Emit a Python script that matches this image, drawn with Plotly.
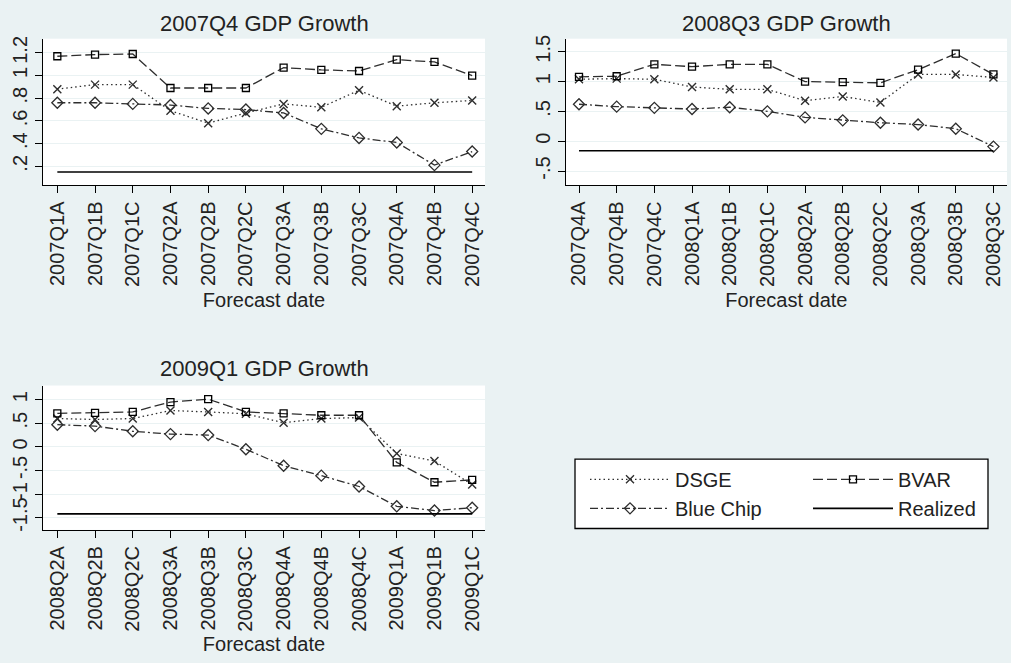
import plotly.graph_objects as go

# ---------------- data ----------------
titles = ["2007Q4 GDP Growth", "2008Q3 GDP Growth", "2009Q1 GDP Growth"]

dates1 = ["2007Q1A", "2007Q1B", "2007Q1C", "2007Q2A", "2007Q2B", "2007Q2C",
          "2007Q3A", "2007Q3B", "2007Q3C", "2007Q4A", "2007Q4B", "2007Q4C"]
dsge1 = [0.88, 0.92, 0.92, 0.69, 0.58, 0.67, 0.75, 0.72, 0.87, 0.73, 0.76, 0.78]
bvar1 = [1.17, 1.185, 1.19, 0.89, 0.89, 0.89, 1.07, 1.05, 1.04, 1.14, 1.12, 1.00]
bluechip1 = [0.76, 0.76, 0.75, 0.74, 0.71, 0.70, 0.67, 0.53, 0.45, 0.41, 0.21, 0.33]
realized1 = 0.15

dates2 = ["2007Q4A", "2007Q4B", "2007Q4C", "2008Q1A", "2008Q1B", "2008Q1C",
          "2008Q2A", "2008Q2B", "2008Q2C", "2008Q3A", "2008Q3B", "2008Q3C"]
dsge2 = [1.04, 1.05, 1.04, 0.91, 0.87, 0.87, 0.68, 0.75, 0.65, 1.12, 1.12, 1.07]
bvar2 = [1.08, 1.09, 1.29, 1.25, 1.29, 1.29, 1.00, 0.99, 0.98, 1.20, 1.47, 1.12]
bluechip2 = [0.62, 0.58, 0.56, 0.54, 0.57, 0.50, 0.40, 0.35, 0.31, 0.28, 0.21, -0.09]
realized2 = -0.16

dates3 = ["2008Q2A", "2008Q2B", "2008Q2C", "2008Q3A", "2008Q3B", "2008Q3C",
          "2008Q4A", "2008Q4B", "2008Q4C", "2009Q1A", "2009Q1B", "2009Q1C"]
dsge3 = [0.60, 0.58, 0.60, 0.77, 0.74, 0.70, 0.51, 0.60, 0.62, -0.14, -0.30, -0.80]
bvar3 = [0.71, 0.72, 0.74, 0.95, 1.01, 0.74, 0.71, 0.67, 0.67, -0.33, -0.75, -0.70]
bluechip3 = [0.47, 0.44, 0.33, 0.27, 0.25, -0.05, -0.40, -0.61, -0.84, -1.26, -1.35, -1.29]
realized3 = -1.42

ytickvals1 = [0.2, 0.4, 0.6, 0.8, 1.0, 1.2]
yticktext1 = [".2", ".4", ".6", ".8", "1", "1.2"]
ytickvals2 = [-0.5, 0, 0.5, 1.0, 1.5]
yticktext2 = ["-.5", "0", ".5", "1", "1.5"]
ytickvals3 = [-1.5, -1, -0.5, 0, 0.5, 1]
yticktext3 = ["-1.5", "-1", "-.5", "0", ".5", "1"]

# ---------------- style ----------------
W, H = 1011, 663
BG = "#EAF2F3"
GRID = "#EAF2F3"
FONT = "Liberation Sans, Arial, Helvetica, sans-serif"
LC = "#2e2e2e"

panels = [
    dict(dates=dates1, dsge=dsge1, bvar=bvar1, bc=bluechip1, real=realized1,
         tv=ytickvals1, tt=yticktext1, yr=[0.032, 1.325], xr=[-0.38, 11.34],
         px=(43, 485), py=(35, 183), title=titles[0], ty=19.5),
    dict(dates=dates2, dsge=dsge2, bvar=bvar2, bc=bluechip2, real=realized2,
         tv=ytickvals2, tt=yticktext2, yr=[-0.74, 1.72], xr=[-0.353, 11.36],
         px=(565.7, 1007), py=(35, 183), title=titles[1], ty=19.5),
    dict(dates=dates3, dsge=dsge3, bvar=bvar3, bc=bluechip3, real=realized3,
         tv=ytickvals3, tt=yticktext3, yr=[-1.76, 1.30], xr=[-0.38, 11.34],
         px=(43, 485), py=(385, 530.7), title=titles[2], ty=368.0),
]

fig = go.Figure()
annotations = []

for i, p in enumerate(panels):
    n = "" if i == 0 else str(i + 1)
    xa, ya = "x" + n, "y" + n
    show = i == 0
    fig.add_trace(go.Scatter(
        x=p["dates"], y=p["dsge"], xaxis=xa, yaxis=ya, name="DSGE",
        mode="lines+markers", showlegend=show, legend="legend",
        line=dict(color=LC, width=1.3, dash="1.5px,3px"),
        marker=dict(symbol="x-thin-open", size=8, color=LC, line=dict(color=LC, width=1.4))))
    fig.add_trace(go.Scatter(
        x=p["dates"], y=p["bvar"], xaxis=xa, yaxis=ya, name="BVAR",
        mode="lines+markers", showlegend=show, legend="legend2",
        line=dict(color=LC, width=1.3, dash="10px,4px"),
        marker=dict(symbol="square-open", size=7, color="black", line=dict(color="black", width=1.3))))
    fig.add_trace(go.Scatter(
        x=p["dates"], y=p["bc"], xaxis=xa, yaxis=ya, name="Blue Chip",
        mode="lines+markers", showlegend=show, legend="legend",
        line=dict(color=LC, width=1.3, dash="8px,3px,2px,3px"),
        marker=dict(symbol="diamond-open", size=8.5, color=LC, line=dict(color=LC, width=1.3))))
    fig.add_trace(go.Scatter(
        x=[p["dates"][0], p["dates"][-1]], y=[p["real"], p["real"]], xaxis=xa, yaxis=ya,
        name="Realized", mode="lines", showlegend=show, legend="legend2",
        line=dict(color="black", width=1.6)))

    x0, x1 = p["px"]
    y0, y1 = p["py"]
    fig.update_layout(**{
        "xaxis" + n: dict(
            domain=[x0 / W, x1 / W], anchor=ya, type="category",
            categoryorder="array", categoryarray=p["dates"], range=p["xr"],
            showline=True, linecolor="black", linewidth=1.3, mirror=False,
            ticks="outside", ticklen=7, tickwidth=1.3, tickcolor="black",
            tickangle=-90, showgrid=False, zeroline=False,
            tickfont=dict(family=FONT, size=20, color="#222"),
            title=dict(text="Forecast date", standoff=6,
                       font=dict(family=FONT, size=20, color="#222"))),
        "yaxis" + n: dict(
            domain=[1 - y1 / H, 1 - y0 / H], anchor=xa, range=p["yr"],
            showline=True, linecolor="black", linewidth=1.3, mirror=False,
            ticks="outside", ticklen=7, tickwidth=1.3, tickcolor="black",
            tickvals=p["tv"], ticktext=p["tt"], tickangle=-90,
            showgrid=True, gridcolor=GRID, gridwidth=1.2, zeroline=False,
            tickfont=dict(family=FONT, size=20, color="#222")),
    })
    annotations.append(dict(
        text=p["title"], x=(x0 + x1) / 2 / W, y=1 - p["ty"] / H, xref="paper", yref="paper",
        xanchor="center", yanchor="middle", showarrow=False,
        font=dict(family=FONT, size=22, color="#222")))

# legend frame
lx0, lx1, ly0, ly1 = 575, 988, 459.3, 529.3
fig.add_shape(type="rect", xref="paper", yref="paper",
              x0=lx0 / W, x1=lx1 / W, y0=1 - ly1 / H, y1=1 - ly0 / H,
              line=dict(color="black", width=1.3), fillcolor="white", layer="below")

leg_common = dict(orientation="v", bgcolor="rgba(0,0,0,0)", borderwidth=0,
                  font=dict(family=FONT, size=20, color="#222"),
                  itemwidth=80, itemsizing="trace", tracegroupgap=0,
                  xanchor="left", yanchor="top", y=1 - 460 / H)

fig.update_layout(
    width=W, height=H,
    margin=dict(l=0, r=0, t=0, b=0),
    paper_bgcolor=BG, plot_bgcolor="white",
    annotations=annotations,
    legend=dict(x=585 / W, **leg_common),
    legend2=dict(x=808 / W, **leg_common),
    font=dict(family=FONT, color="#222"),
)

fig.write_html(
    "out.html",
    config={"displayModeBar": False},
    post_script="document.body.style.margin='0';document.body.style.overflow='hidden';",
)
